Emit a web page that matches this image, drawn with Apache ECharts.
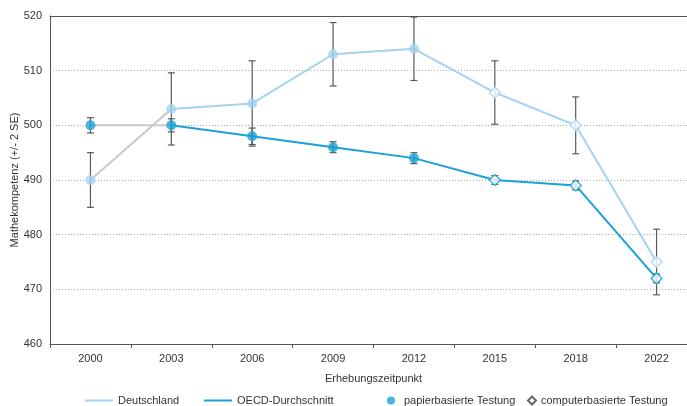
<!DOCTYPE html>
<html>
<head>
<meta charset="utf-8">
<script src="https://cdn.jsdelivr.net/npm/echarts@6/dist/echarts.min.js"></script>
<style>
  html, body { margin: 0; padding: 0; background: #fff; }
  #chart { width: 687px; height: 406px; }
</style>
</head>
<body>
<div id="chart"></div>
<script>
// Survey years
var years = ['2000', '2003', '2006', '2009', '2012', '2015', '2018', '2022'];
// Mean maths score per year
var germany = [490, 503, 504, 513, 514, 506, 500, 475];
var oecd = [500, 500, 498, 496, 494, 490, 489, 472];
// Half-width of the +/- 2 SE interval
var germanyErr = [5, 6.6, 7.8, 5.8, 5.8, 5.8, 5.2, 6];
var oecdErr = [1.4, 1.2, 1.5, 1, 1, 0.8, 0.8, 0.8];
// Test mode per year: 'p' = paper, 'c' = computer
var testMode = ['p', 'p', 'p', 'p', 'p', 'c', 'c', 'c'];
// Value axis ticks
var yTicks = [460, 470, 480, 490, 500, 510, 520];

var FONT = "'Liberation Sans', Arial, sans-serif";
var C_DE = '#a3d3f0';
var C_OECD = '#18a2d8';
var C_GREY = '#c8c8c8';
var C_ERR = '#5a5a5a';

// First survey span is drawn grey, the rest in series colour
function firstSpan(arr) { return arr.map(function (v, i) { return i <= 1 ? v : null; }); }
function fromSecond(arr) { return arr.map(function (v, i) { return i >= 1 ? v : null; }); }

function errData(vals, errs) {
  return vals.map(function (v, i) { return [i, v - errs[i], v + errs[i]]; });
}

function markerData(mode) {
  var out = [];
  [[germany, C_DE], [oecd, C_OECD]].forEach(function (pair) {
    pair[0].forEach(function (v, i) {
      if (testMode[i] !== mode) return;
      out.push(mode === 'p'
        ? { value: [i, v], itemStyle: { color: pair[1] } }
        : { value: [i, v], itemStyle: { color: '#fff', borderColor: pair[1] } });
    });
  });
  return out;
}

function renderErr(params, api) {
  var x = api.value(0);
  var lo = api.coord([x, api.value(1)]);
  var hi = api.coord([x, api.value(2)]);
  var hw = 3.5;
  function seg(x1, y1, x2, y2) {
    return { type: 'line', shape: { x1: x1, y1: y1, x2: x2, y2: y2 },
             style: { stroke: C_ERR, lineWidth: 1.2 } };
  }
  return { type: 'group', children: [
    seg(hi[0], hi[1], lo[0], lo[1]),
    seg(hi[0] - hw, hi[1], hi[0] + hw, hi[1]),
    seg(lo[0] - hw, lo[1], lo[0] + hw, lo[1])
  ] };
}

var legendText = { fontFamily: FONT, fontSize: 11, color: '#333' };

var chart = echarts.init(document.getElementById('chart'));
chart.setOption({
  animation: false,
  backgroundColor: '#fff',
  textStyle: { fontFamily: FONT },
  grid: { left: 50, top: 16, width: 647, height: 328, containLabel: false, outerBoundsMode: 'none' },
  legend: [
    { left: 80, top: 390, data: ['Deutschland'], icon: 'rect', itemWidth: 28, itemHeight: 2, textStyle: legendText },
    { left: 199, top: 390, data: ['OECD-Durchschnitt'], icon: 'rect', itemWidth: 28, itemHeight: 2, textStyle: legendText },
    { left: 382, top: 390, data: ['papierbasierte Testung'], icon: 'circle', itemWidth: 16, itemHeight: 8, textStyle: legendText },
    { left: 522, top: 390, data: ['computerbasierte Testung'], icon: 'diamond', itemWidth: 8, itemHeight: 8, textStyle: legendText }
  ],
  xAxis: [{
    type: 'category',
    data: years,
    boundaryGap: true,
    name: 'Erhebungszeitpunkt',
    nameLocation: 'middle',
    nameGap: 29,
    nameMoveOverlap: false,
    nameTextStyle: { fontFamily: FONT, fontSize: 11, color: '#333' },
    axisLine: { lineStyle: { color: '#555', width: 1 } },
    axisTick: { show: true, length: 4, lineStyle: { color: '#555' } },
    axisLabel: { fontFamily: FONT, fontSize: 11, color: '#333', margin: 9 },
    splitLine: { show: false }
  }, {
    type: 'category',
    data: years,
    position: 'top',
    axisLine: { lineStyle: { color: '#555', width: 1 } },
    axisTick: { show: false },
    axisLabel: { show: false },
    splitLine: { show: false }
  }],
  yAxis: {
    type: 'value',
    min: yTicks[0],
    max: yTicks[yTicks.length - 1],
    interval: 10,
    name: 'Mathekompetenz (+/- 2 SE)',
    nameLocation: 'middle',
    nameGap: 30,
    nameMoveOverlap: false,
    nameTextStyle: { fontFamily: FONT, fontSize: 11, color: '#333' },
    axisLine: { show: true, lineStyle: { color: '#555', width: 1 } },
    axisTick: { show: false },
    axisLabel: { fontFamily: FONT, fontSize: 11, color: '#333', margin: 8 },
    splitLine: { show: true, lineStyle: { color: '#b0b0b0', type: [1, 2], width: 1 } }
  },
  series: [
    { name: 'Deutschland (2000-2003)', type: 'line', data: firstSpan(germany), symbol: 'none',
      lineStyle: { color: C_GREY, width: 2 }, z: 2, silent: true },
    { name: 'OECD (2000-2003)', type: 'line', data: firstSpan(oecd), symbol: 'none',
      lineStyle: { color: C_GREY, width: 2 }, z: 2, silent: true },
    { name: 'Deutschland', type: 'line', data: fromSecond(germany), symbol: 'none',
      itemStyle: { color: C_DE }, lineStyle: { color: C_DE, width: 2 }, z: 3 },
    { name: 'OECD-Durchschnitt', type: 'line', data: fromSecond(oecd), symbol: 'none',
      itemStyle: { color: C_OECD }, lineStyle: { color: C_OECD, width: 2 }, z: 3 },
    { name: 'Fehler Deutschland', type: 'custom', data: errData(germany, germanyErr),
      renderItem: renderErr, z: 4, silent: true },
    { name: 'Fehler OECD', type: 'custom', data: errData(oecd, oecdErr),
      renderItem: renderErr, z: 4, silent: true },
    { name: 'papierbasierte Testung', type: 'scatter', data: markerData('p'), symbol: 'circle',
      symbolSize: 10, itemStyle: { color: C_OECD }, z: 5 },
    { name: 'computerbasierte Testung', type: 'scatter', data: markerData('c'), symbol: 'diamond',
      symbolSize: 11, itemStyle: { color: '#fff', borderColor: '#444', borderWidth: 1.5 }, z: 5 }
  ]
});
</script>
</body>
</html>
